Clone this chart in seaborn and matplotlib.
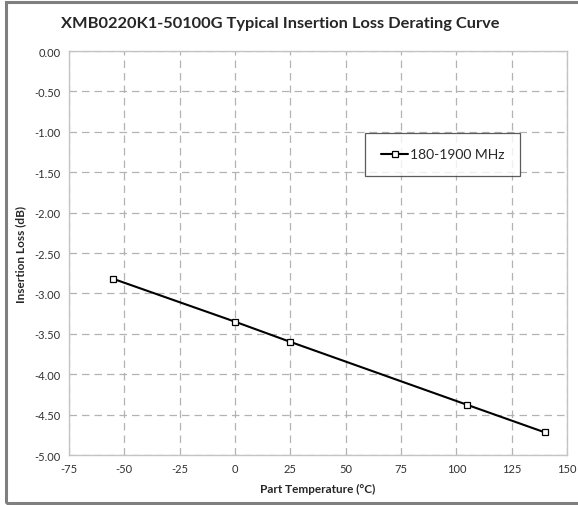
import matplotlib
matplotlib.use("Agg")
import matplotlib.pyplot as plt
import seaborn as sns
import pandas as pd
from matplotlib.patches import Rectangle

temps = [-55, 0, 25, 105, 140]
loss = [-2.82, -3.35, -3.60, -4.38, -4.72]
series_name = "180-1900 MHz"
x_ticks = [-75, -50, -25, 0, 25, 50, 75, 100, 125, 150]
y_ticks = [0.0, -0.5, -1.0, -1.5, -2.0, -2.5, -3.0, -3.5, -4.0, -4.5, -5.0]

sns.set_style("white")
plt.rcParams['font.family'] = ['Lato', 'DejaVu Sans']

df = pd.DataFrame({"Temp": temps, "Loss": loss, "Series": series_name})

fig = plt.figure(figsize=(5.78, 5.06), dpi=100)
ax = fig.add_axes([0.1194, 0.0988, 0.8616, 0.7984])

sns.lineplot(data=df, x="Temp", y="Loss", hue="Series", palette=["black"],
             marker="s", markersize=5, markerfacecolor="white",
             markeredgecolor="black", markeredgewidth=0.9, linewidth=1.5, ax=ax)

ax.set_xlim(-75, 150)
ax.set_ylim(-5.0, 0.0)
ax.set_xticks(x_ticks)
ax.set_yticks(y_ticks)
ax.set_xticklabels([str(t) for t in x_ticks], fontsize=8, color="#303030")
ax.set_yticklabels([f"{t:.2f}" for t in y_ticks], fontsize=8, color="#303030")
ax.tick_params(axis='both', length=0, pad=6)

ax.grid(True, linestyle=(0, (6, 4)), color="#b3b3b3", linewidth=0.9)
for s in ["top", "right", "left", "bottom"]:
    ax.spines[s].set_color("#c4c4c4")
    ax.spines[s].set_linewidth(1.0)

ax.set_xlabel("Part Temperature (°C)", fontsize=8.5, fontweight="bold", labelpad=6)
ax.set_ylabel("Insertion Loss (dB)", fontsize=8.5, fontweight="bold", labelpad=6)

fig.text(0.484, 0.952, "XMB0220K1-50100G Typical Insertion Loss Derating Curve",
         ha="center", va="center", fontsize=11.8, fontweight="bold")

leg = ax.legend(loc="center", bbox_to_anchor=(0.75, 0.744), fontsize=10,
                frameon=True, fancybox=False, borderpad=1.1, handlelength=2.0,
                handletextpad=0.1, borderaxespad=0)
leg.get_frame().set_edgecolor("#333333")
leg.get_frame().set_linewidth(0.9)

fig.patches.append(Rectangle((0.0104, 0.004), 1.02, 0.99, transform=fig.transFigure,
                             fill=False, edgecolor="#7f7f7f", linewidth=2.2))

fig.savefig("out.png", dpi=100)
